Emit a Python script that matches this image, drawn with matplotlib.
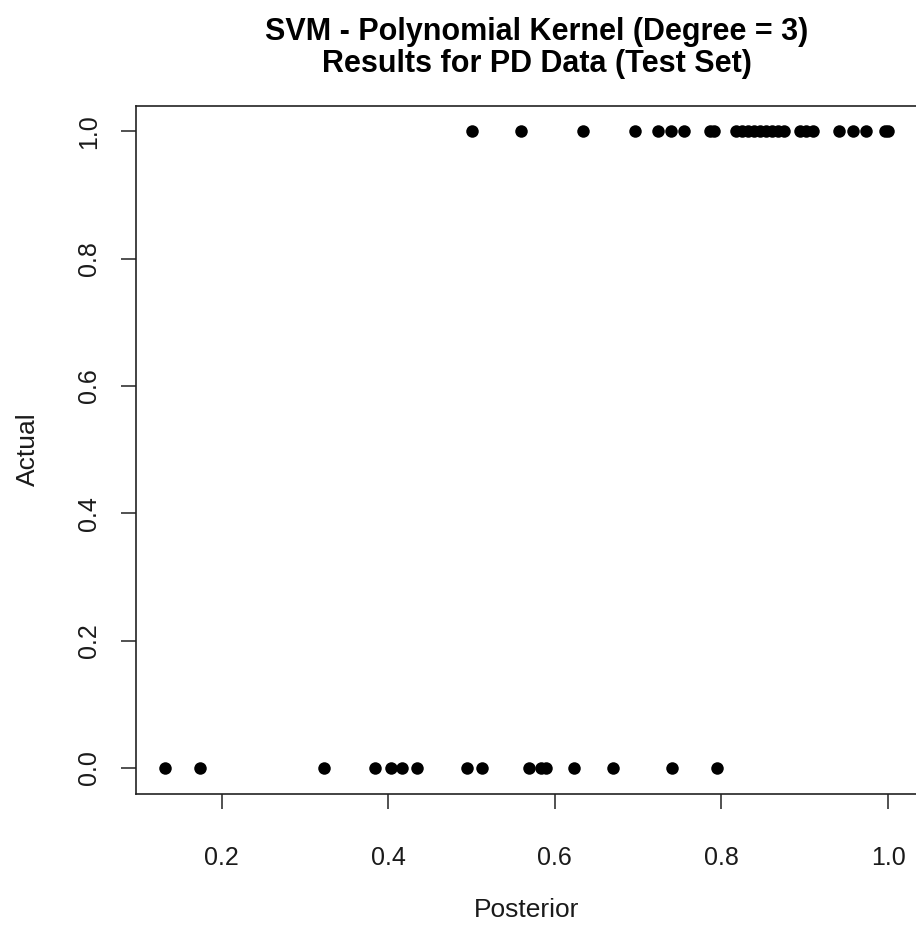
import matplotlib
matplotlib.use('Agg')
import matplotlib.pyplot as plt

plt.rcParams['font.family'] = ['Liberation Sans', 'DejaVu Sans']

# Posterior probabilities
posterior_pos = [0.500, 0.559, 0.634, 0.696, 0.724, 0.739, 0.755, 0.786, 0.791,
                 0.817, 0.825, 0.832, 0.839, 0.846, 0.854, 0.861, 0.868, 0.875,
                 0.894, 0.902, 0.910, 0.941, 0.958, 0.974, 0.996, 1.000]
posterior_neg = [0.132, 0.174, 0.323, 0.384, 0.403, 0.417, 0.434, 0.494, 0.512,
                 0.569, 0.583, 0.589, 0.623, 0.670, 0.741, 0.795]
actual_pos = [1] * len(posterior_pos)
actual_neg = [0] * len(posterior_neg)

xticks = [0.2, 0.4, 0.6, 0.8, 1.0]
yticks = [0.0, 0.2, 0.4, 0.6, 0.8, 1.0]

fig = plt.figure(figsize=(9.16, 9.27), dpi=100)
ax = fig.add_axes([0.1485, 0.144, 0.8526, 0.742])

ax.plot(posterior_pos + posterior_neg, actual_pos + actual_neg, 'o',
        color='black', markersize=9, markeredgewidth=0)

xmin, xmax = min(posterior_neg), max(posterior_pos)
pad = (xmax - xmin) * 0.04
ax.set_xlim(xmin - pad, xmax + pad)
ax.set_ylim(-0.04, 1.04)

ax.set_xticks(xticks)
ax.set_xticklabels([f'{t:.1f}' for t in xticks])
ax.set_yticks(yticks)
ax.set_yticklabels([f'{t:.1f}' for t in yticks], rotation=90, va='center')
ax.tick_params(length=11, width=1.1, labelsize=18, color='#222222',
               labelcolor='#1a1a1a')
ax.tick_params(axis='x', pad=27)
ax.tick_params(axis='y', pad=14)

for s in ax.spines.values():
    s.set_linewidth(1.2)
    s.set_color('#222222')

ax.set_xlabel('Posterior', fontsize=19, labelpad=20, color='#1a1a1a')
ax.set_ylabel('Actual', fontsize=19, labelpad=27, color='#1a1a1a')
ax.set_title('SVM - Polynomial Kernel (Degree = 3)\nResults for PD Data (Test Set)',
             fontsize=22, fontweight='bold', pad=24, linespacing=1.1, x=0.513)

fig.savefig('out.png', dpi=100)
